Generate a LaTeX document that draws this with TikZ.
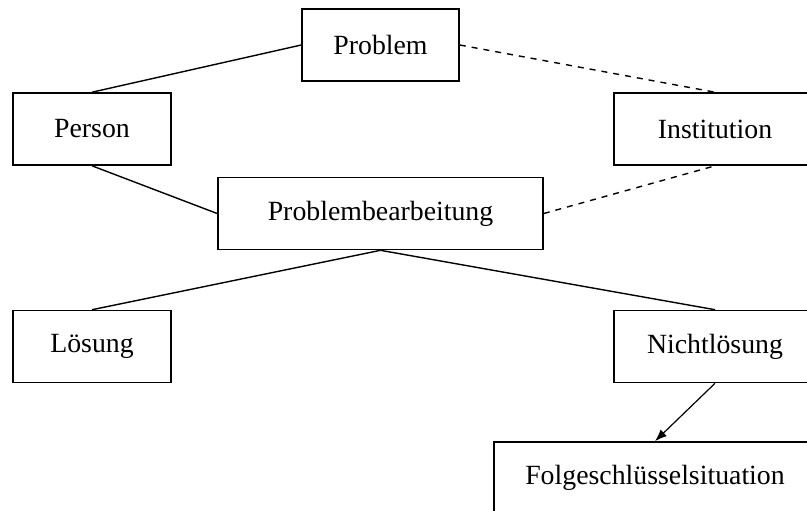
\documentclass[tikz,border=0pt]{standalone}
\usepackage{fontspec}
\setmainfont{Liberation Serif}
\usetikzlibrary{arrows.meta}

\begin{document}
\begin{tikzpicture}[
    x=0.5pt, y=-0.5pt,
    box/.style={
        rectangle,
        minimum height=36pt,
        draw=black,
        line width=0.8pt,
        font=\fontsize{13.9}{16}\selectfont
    },
    link/.style={
        line width=0.7pt,
        black
    },
    arrow/.style={
        -{Latex[length=6pt,width=4.5pt]},
        line width=0.6pt,
        black
    }
]

\clip (0,0) rectangle (807,510);

% Top row
\node[box, minimum width=78.5pt] (problem) at (380.5,45) {Problem};

% Actors
\node[box, minimum width=79pt] (person) at (92,129) {Person};
\node[box, minimum width=101pt] (institution) at (715,129) {Institution};

% Work
\node[box, minimum width=162.5pt] (work) at (380.5,213.5) {Problembearbeitung};

% Outcomes
\node[box, minimum width=79pt] (solved) at (92,346.5) {Lösung};
\node[box, minimum width=101pt] (unsolved) at (715,346.5) {Nichtlösung};
\node[box, minimum width=161pt] (followup) at (655,478) {Folgeschlüsselsituation};

% Connectors
\draw[link] (problem.west) -- (person.north);
\draw[link, dashed] (problem.east) -- (institution.north);
\draw[link] (person.south) -- (work.west);
\draw[link, dashed] (work.east) -- (institution.south);
\draw[link] (work.south) -- (solved.north);
\draw[link] (work.south) -- (unsolved.north);
\draw[arrow] (unsolved.south) -- (followup.north);

\end{tikzpicture}
\end{document}
